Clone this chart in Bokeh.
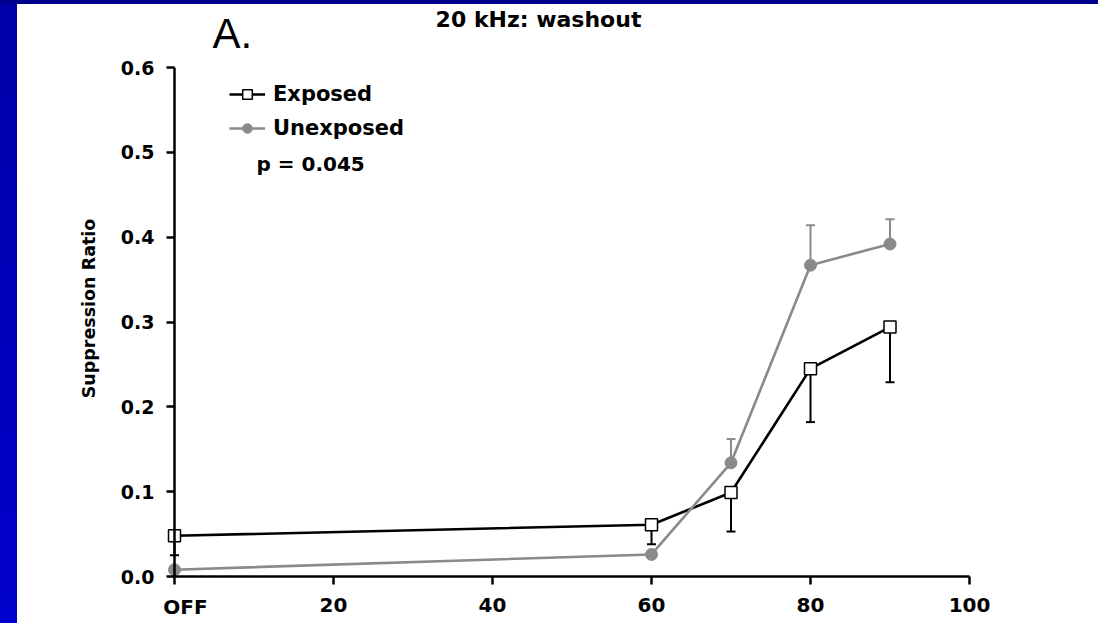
import math
from bokeh.plotting import figure
from bokeh.models import (ColumnDataSource, Range1d, FixedTicker, PrintfTickFormatter,
                          Whisker, TeeHead, Legend, LegendItem, Label, Div)
from bokeh.layouts import row, column
from bokeh.embed import file_html
from bokeh.resources import INLINE

# Stimulus level (OFF plotted at 0) and suppression ratios, mean and SEM
levels = [0, 60, 70, 80, 90]
exposed_mean = [0.048, 0.061, 0.099, 0.245, 0.294]
exposed_sem = [0.023, 0.023, 0.046, 0.063, 0.065]
unexposed_mean = [0.008, 0.026, 0.134, 0.367, 0.392]
unexposed_sem = [0.0, 0.0, 0.028, 0.047, 0.029]

x_ticks = [0, 20, 40, 60, 80, 100]
x_tick_labels = ["OFF", "20", "40", "60", "80", "100"]
y_ticks = [0.0, 0.1, 0.2, 0.3, 0.4, 0.5, 0.6]

title_text = "20 kHz: washout"
panel_text = "A."
p_text = "p = 0.045"
y_label = "Suppression Ratio"

BOLD = "DejaVu Sans"
GRAY = "#8a8a8a"

exp_src = ColumnDataSource(dict(
    x=levels, y=exposed_mean,
    lower=[m - s for m, s in zip(exposed_mean, exposed_sem)],
    upper=exposed_mean))
unexp_src = ColumnDataSource(dict(
    x=levels, y=unexposed_mean,
    lower=unexposed_mean,
    upper=[m + s for m, s in zip(unexposed_mean, unexposed_sem)]))

# The frame fills the whole canvas; axes sit at x=0 / y=0 and are bounded
# to the tick span, so all text lives inside the frame.
W, H = 1081, 619
X0_PX, X100_PX = 157.0, 952.0      # canvas x of 0 and 100
Y0_PX, Y06_PX = 572.0, 63.0        # canvas y (from top) of 0.0 and 0.6
sx = (X100_PX - X0_PX) / 100.0
sy = (Y0_PX - Y06_PX) / 0.6
x_range = Range1d(-X0_PX / sx, 100 + (W - X100_PX) / sx)
y_range = Range1d(-(H - Y0_PX) / sy, 0.6 + Y06_PX / sy)

p = figure(width=W, height=H, output_backend="svg", toolbar_location=None,
           x_range=x_range, y_range=y_range,
           min_border_left=0, min_border_right=0, min_border_top=0,
           min_border_bottom=0, margin=0)
p.background_fill_color = "white"
p.border_fill_color = "white"
p.outline_line_color = None
p.grid.visible = False

for ax in (p.xaxis[0], p.yaxis[0]):
    ax.fixed_location = 0
    ax.axis_line_width = 2.5
    ax.axis_line_color = "black"
    ax.major_tick_line_width = 2.5
    ax.major_tick_line_color = "black"
    ax.major_tick_out = 8
    ax.major_tick_in = 0
    ax.minor_tick_line_color = None
    ax.major_label_text_font = BOLD
    ax.major_label_text_font_style = "bold"
    ax.major_label_text_color = "black"

p.xaxis.bounds = (x_ticks[0], x_ticks[-1])
p.xaxis.ticker = FixedTicker(ticks=x_ticks)
# the OFF label sits a little right of its tick, so it is drawn separately
p.xaxis.major_label_overrides = {t: ("" if i == 0 else l)
                                 for i, (t, l) in enumerate(zip(x_ticks, x_tick_labels))}
p.xaxis.major_label_text_font_size = "20px"
p.xaxis.major_label_standoff = 13

p.yaxis.bounds = (y_ticks[0], y_ticks[-1])
p.yaxis.ticker = FixedTicker(ticks=y_ticks)
p.yaxis.formatter = PrintfTickFormatter(format="%.1f")
p.yaxis.major_label_text_font_size = "19px"
p.yaxis.major_label_standoff = 12

# Error bars: exposed hang down, unexposed point up
p.add_layout(Whisker(source=exp_src, base="x", lower="lower", upper="upper",
                     dimension="height", line_color="black", line_width=2,
                     upper_head=None,
                     lower_head=TeeHead(size=9, line_color="black", line_width=2)))
p.add_layout(Whisker(source=unexp_src, base="x", lower="lower", upper="upper",
                     dimension="height", line_color=GRAY, line_width=2,
                     lower_head=None,
                     upper_head=TeeHead(size=9, line_color=GRAY, line_width=2)))

exp_line = p.line("x", "y", source=exp_src, line_color="black", line_width=2.6)
exp_pts = p.scatter("x", "y", source=exp_src, marker="square", size=12,
                    fill_color="white", line_color="black", line_width=1.5)
unexp_line = p.line("x", "y", source=unexp_src, line_color=GRAY, line_width=2.6)
unexp_pts = p.scatter("x", "y", source=unexp_src, marker="circle", size=12,
                      fill_color=GRAY, line_color=GRAY)

legend = Legend(items=[LegendItem(label="Exposed", renderers=[exp_line, exp_pts]),
                       LegendItem(label="Unexposed", renderers=[unexp_line, unexp_pts])],
                location=(212, 483), margin=0, padding=0, spacing=10,
                glyph_width=36, glyph_height=24, label_height=24, label_standoff=8,
                label_text_font=BOLD, label_text_font_style="bold",
                label_text_font_size="21px", label_text_color="black",
                border_line_color=None, background_fill_alpha=0)
p.add_layout(legend, "center")


def screen_label(x, y, text, **kw):
    style = dict(text_font=BOLD, text_font_style="bold", text_color="black",
                 text_baseline="middle")
    style.update(kw)
    p.add_layout(Label(x=x, y=y, x_units="screen", y_units="screen", text=text, **style))


screen_label(239, 460, p_text, text_font_size="20px")
screen_label(521, 604, title_text, text_font_size="22px", text_align="center")
screen_label(195, 590, panel_text, text_font="Liberation Sans", text_font_style="normal",
             text_font_size="42px")
screen_label(168, 17, x_tick_labels[0], text_font_size="20px", text_align="center")
screen_label(71, 315, y_label, text_font_size="17.5px", text_align="center",
             angle=math.pi / 2)

top_band = Div(width=1098, height=4, margin=0,
               styles={"background": "#00008f"})
side_band = Div(width=17, height=619, margin=0,
                styles={"background": "linear-gradient(#0000a8, #0000cc)"})
layout = column(top_band, row(side_band, p, spacing=0, margin=0), spacing=0, margin=0)

open("out.html", "w").write(file_html(layout, INLINE))
